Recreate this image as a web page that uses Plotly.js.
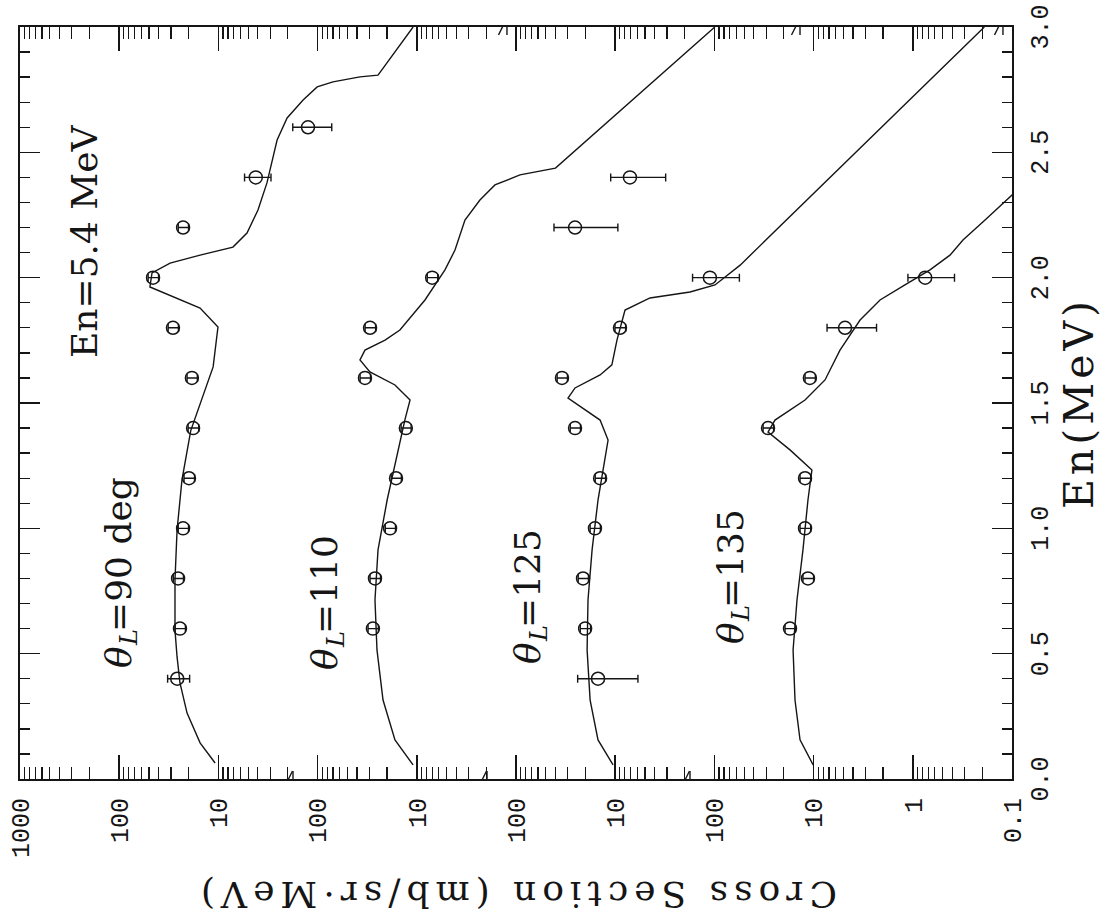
<!DOCTYPE html>
<html>
<head>
<meta charset="utf-8">
<script src="https://cdn.plot.ly/plotly-3.0.1.min.js"></script>
<style>
  html, body { margin: 0; padding: 0; background: #fff; overflow: hidden; }
  #stage { position: relative; width: 1103px; height: 919px; overflow: hidden; background: #fff; }
  /* the figure is laid out upright and then turned a quarter turn counter-clockwise */
  #plot { position: absolute; left: 0; top: 0; width: 919px; height: 1103px;
          transform-origin: 0 0; transform: translateY(919px) rotate(-90deg); }
  /* wide, airy axis titles */
  #plot .g-ytitle text { letter-spacing: 6px; }
  #plot .g-xtitle text { letter-spacing: 4px; }
</style>
</head>
<body>
<div id="stage"><div id="plot"></div></div>
<script>
// ---- measured points: neutron energy (MeV) ----
const energies = [0.4, 0.6, 0.8, 1.0, 1.2, 1.4, 1.6, 1.8, 2.0, 2.2, 2.4, 2.6];

// cross sections (mb/sr·MeV) and their errors, one list per laboratory angle
const xs90   = [26.0, 24.4, 25.5, 22.7, 19.8, 18.0, 18.5, 28.7, 45.6, 22.7, 4.2, 1.25];
const err90  = [6.5, 2.9, 3.0, 2.7, 2.4, 2.2, 2.2, 3.4, 5.5, 2.7, 1.25, 0.53];
const xs110  = [null, 27.7, 26.4, 18.6, 16.2, 12.9, 33.3, 29.6, 7.0, null, null, null];
const err110 = [null, 3.3, 3.2, 2.2, 1.9, 1.5, 4.0, 3.6, 0.85, null, null, null];
const xs125  = [14.9, 20.1, 21.1, 16.0, 14.2, 25.4, 34.4, 8.95, 1.11, 25.4, 7.1, null];
const err125 = [9.0, 2.4, 2.5, 1.9, 1.7, 3.0, 4.1, 1.1, 0.55, 16.0, 4.0, null];
const xs135  = [null, 17.3, 11.4, 12.2, 12.2, 28.8, 10.9, 4.82, 0.75, null, null, null];
const err135 = [null, 2.1, 1.4, 1.5, 1.5, 3.5, 1.3, 2.5, 0.37, null, null, null];

// ---- model calculation curves ----
const calcE90 = [0.064, 0.144, 0.263, 0.383, 0.487, 0.594, 0.794, 0.993, 1.193, 1.39, 1.644, 1.803, 1.879, 1.923, 1.963, 2.019, 2.058, 2.090, 2.122, 2.178, 2.270, 2.378, 2.549, 2.637, 2.709, 2.761, 2.781, 2.801, 2.808, 3.0];
const calcV90 = [10.8, 15.3, 20.7, 24.4, 26.1, 27.4, 27.4, 26.1, 23.3, 19.0, 11.3, 10.1, 15.3, 28.7, 49.0, 46.7, 30.7, 15.3, 7.13, 5.15, 3.99, 3.24, 2.56, 2.03, 1.40, 1.01, 0.70, 0.374, 0.246, 0.109];

const calcE110 = [0.056, 0.156, 0.315, 0.515, 0.714, 0.914, 1.113, 1.313, 1.432, 1.512, 1.572, 1.624, 1.672, 1.711, 1.751, 1.791, 1.839, 1.911, 2.031, 2.110, 2.230, 2.310, 2.370, 2.410, 2.437, 3.0];
const calcV110 = [10.9, 16.6, 21.9, 25.2, 26.4, 24.6, 19.9, 15.5, 13.2, 11.7, 16.6, 29.7, 37.4, 33.3, 20.9, 14.8, 11.7, 8.27, 5.2, 4.12, 3.27, 2.31, 1.63, 0.912, 0.40, 0.0099];

const calcE125 = [0.056, 0.156, 0.315, 0.515, 0.714, 0.914, 1.113, 1.273, 1.352, 1.432, 1.472, 1.520, 1.560, 1.612, 1.652, 1.751, 1.871, 1.919, 1.943, 1.971, 2.05, 3.0];
const calcV125 = [10.5, 14.9, 17.9, 19.2, 18.8, 17.1, 14.9, 12.7, 11.8, 14.2, 20.1, 29.9, 25.4, 14.2, 10.8, 9.6, 7.96, 4.46, 1.76, 0.986, 0.55, 0.0019];

const calcE135 = [0.056, 0.156, 0.315, 0.515, 0.714, 0.914, 1.113, 1.233, 1.313, 1.384, 1.432, 1.512, 1.592, 1.711, 1.831, 1.911, 1.971, 2.031, 2.090, 2.150, 2.230, 2.330, 2.41];
const calcV135 = [10.1, 13.7, 15.4, 16.1, 14.7, 12.8, 11.4, 10.4, 17.3, 28.8, 24.5, 12.2, 7.67, 5.42, 3.40, 2.14, 1.20, 0.671, 0.422, 0.312, 0.187, 0.100, 0.066];

// ---- axis labelling ----
const enTickLabels = ['0.0', '0.5', '1.0', '1.5', '2.0', '2.5', '3.0'];
const xsTickVals   = [0.1, 1, 10, 100, 1e3, 1e4, 1e5, 1e6, 1e7, 1e8, 1e9];
const xsTickText   = ['0.1', '1', '10', '100', '10', '100', '10', '100', '10', '100', '1000'];

// panel captions
const angleNames = ['90 deg', '110', '125', '135'];
const beamLabel  = 'En=5.4 MeV';

// each angle is shifted up the common log axis by its own factor
const panelShift = { a90: 1e6, a110: 1e4, a125: 1e2, a135: 1 };

// axis break marks (log10 of axis position)
const breaksLow  = [2.246, 4.292, 6.248];
const breaksHigh = [-0.909, 1.137, 4.091];

const INK = '#151515';
const scale = (arr, f) => arr.map(v => (v === null ? null : v * f));

function pointsTrace(vals, errs, f) {
  return {
    type: 'scatter', mode: 'markers',
    x: energies, y: scale(vals, f),
    error_y: { type: 'data', array: scale(errs, f), visible: true,
               color: INK, thickness: 1.4, width: 4 },
    marker: { symbol: 'circle-open', size: 13, color: INK, line: { width: 1.5, color: INK } },
    hoverinfo: 'x+y'
  };
}
function curveTrace(e, v, f) {
  return {
    type: 'scatter', mode: 'lines',
    x: e, y: scale(v, f),
    line: { color: INK, width: 1.4, shape: 'linear' },
    hoverinfo: 'skip'
  };
}

const traces = [
  curveTrace(calcE90, calcV90, panelShift.a90),
  curveTrace(calcE110, calcV110, panelShift.a110),
  curveTrace(calcE125, calcV125, panelShift.a125),
  curveTrace(calcE135, calcV135, panelShift.a135),
  pointsTrace(xs90, err90, panelShift.a90),
  pointsTrace(xs110, err110, panelShift.a110),
  pointsTrace(xs125, err125, panelShift.a125),
  pointsTrace(xs135, err135, panelShift.a135)
];

// minor ticks at 2..9 of every decade
const minorVals = [];
for (let n = -1; n < 9; n++) {
  for (let k = 2; k <= 9; k++) minorVals.push(k * Math.pow(10, n));
}

// a "//" pair drawn across the frame where the log scale is interrupted
function breakMark(enPos, logPos) {
  const out = [];
  [-4.5, 4.5].forEach(d => {
    out.push({
      type: 'line', xref: 'x', yref: 'y',
      xsizemode: 'pixel', ysizemode: 'pixel',
      xanchor: enPos, yanchor: Math.pow(10, logPos),
      x0: -8, x1: 8, y0: 4 + d, y1: -4 + d,
      line: { color: INK, width: 1.4 }
    });
  });
  return out;
}
let shapes = [];
breaksLow.forEach(L => { shapes = shapes.concat(breakMark(0, L)); });
breaksHigh.forEach(L => { shapes = shapes.concat(breakMark(3, L)); });

const serif = 'DejaVu Serif, Liberation Serif, serif';
const mono = 'Liberation Mono, DejaVu Sans Mono, monospace';

// caption pieces: theta, its subscript L, then "=angle"; all left-anchored
const CAP = 36;
function caption(enLeft, logY, name) {
  const common = { x: enLeft, y: logY, xref: 'x', yref: 'y', showarrow: false,
                   xanchor: 'left', yanchor: 'middle' };
  return [
    Object.assign({}, common, { text: '<i>θ</i>', font: { family: serif, size: CAP, color: INK } }),
    Object.assign({}, common, { text: '<i>L</i>', xshift: 22, yshift: -11,
                                font: { family: serif, size: 24, color: INK } }),
    Object.assign({}, common, { text: '=' + name, xshift: 36,
                                font: { family: serif, size: CAP, color: INK } })
  ];
}

const annotations = [].concat(
  [{ x: 1.67, y: 8.345, xref: 'x', yref: 'y', showarrow: false, xanchor: 'left',
     text: beamLabel, font: { family: serif, size: CAP, color: INK } }],
  caption(0.435, 8.01, angleNames[0]),
  caption(0.425, 5.93, angleNames[1]),
  caption(0.45, 3.88, angleNames[2]),
  caption(0.53, 1.84, angleNames[3])
);

const layout = {
  width: 919, height: 1103,
  margin: { l: 140, r: 27, t: 20, b: 91 },
  paper_bgcolor: '#fff', plot_bgcolor: '#fff',
  showlegend: false,
  font: { family: serif, color: INK },
  xaxis: {
    range: [0, 3], tickmode: 'array', automargin: false,
    tickvals: enTickLabels.map(Number), ticktext: enTickLabels,
    ticks: 'inside', ticklen: 20, tickwidth: 1.5, tickcolor: INK,
    minor: { dtick: 0.1, tick0: 0, ticks: 'inside', ticklen: 10, tickwidth: 1.3, tickcolor: INK },
    showline: true, linewidth: 2, linecolor: INK, mirror: 'ticks',
    showgrid: false, zeroline: false,
    tickfont: { family: mono, size: 25, color: INK }, ticklabelstandoff: 4,
    title: { text: 'En(MeV)', font: { family: serif, size: 41, color: INK }, standoff: 10 }
  },
  yaxis: {
    type: 'log', range: [-1, 9], tickmode: 'array', automargin: false,
    tickvals: xsTickVals, ticktext: xsTickText,
    ticks: 'inside', ticklen: 24, tickwidth: 1.5, tickcolor: INK,
    minor: { tickmode: 'array', tickvals: minorVals, ticks: 'inside', ticklen: 12, tickwidth: 1.2, tickcolor: INK },
    showline: true, linewidth: 2, linecolor: INK, mirror: 'ticks',
    showgrid: false, zeroline: false,
    tickfont: { family: mono, size: 25, color: INK }, ticklabelstandoff: 12,
    title: { text: 'Cross Section (mb/sr·MeV)', font: { family: serif, size: 36, color: INK }, standoff: 12 }
  },
  shapes: shapes,
  annotations: annotations
};

Plotly.newPlot('plot', traces, layout, { staticPlot: true, displayModeBar: false });
</script>
</body>
</html>
